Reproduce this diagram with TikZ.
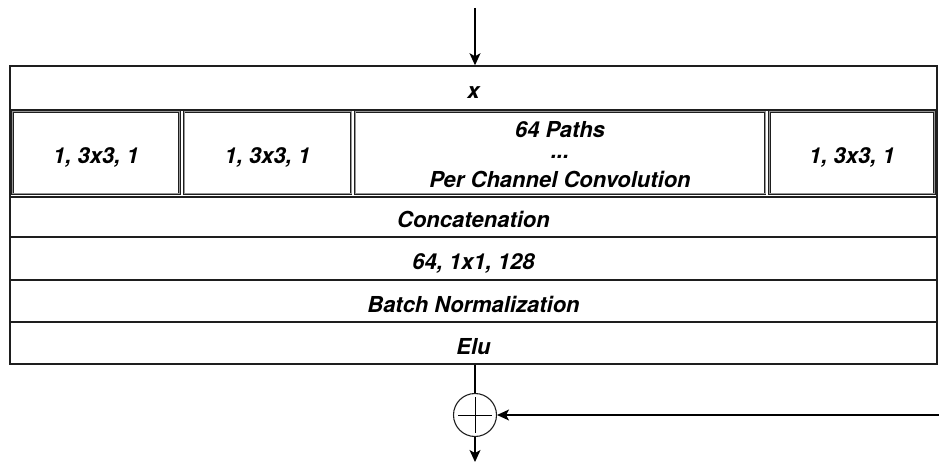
\documentclass[tikz,border=0pt]{standalone}
\usepackage{fontspec}
\setmainfont{TeX Gyre Heros}
\usetikzlibrary{arrows.meta,positioning}
\definecolor{lineColor}{RGB}{30, 30, 30}
\definecolor{gapColor}{RGB}{150, 150, 150}

\tikzset{
    layerrow/.style={draw=lineColor, line width=1.5pt, minimum width=927pt, inner sep=0pt,
        text height=22pt, text depth=0pt,
        font=\fontsize{22}{24}\selectfont\bfseries\itshape},
    pathcell/.style={draw=lineColor, line width=0.7pt, double=gapColor, double distance=1pt,
        minimum height=82pt, inner sep=0pt, text height=22pt, text depth=0pt,
        font=\fontsize{22}{24}\selectfont\bfseries\itshape},
    celltext/.style={inner sep=0pt, align=center,
        font=\fontsize{22}{26}\selectfont\bfseries\itshape},
    flow/.style={line width=1.2pt, -{Stealth[length=12pt, width=11pt, inset=3pt]}}
}

\begin{document}
\begin{tikzpicture}[x=1pt, y=-1pt]
    \useasboundingbox (0,0) rectangle (939,462);

    % Input
    \coordinate (in) at (475,8);

    % Stacked layers
    \node[layerrow, minimum height=44pt] (xrow) at (473.5,88) {x};
    \node[layerrow, minimum height=87pt] (pathrow) at (473.5,153.5) {};
    \node[layerrow, minimum height=40pt] (concat) at (473.5,217) {Concatenation};
    \node[layerrow, minimum height=43pt] (conv) at (473.5,258.5) {64, 1x1, 128};
    \node[layerrow, minimum height=42pt] (bn) at (473.5,301) {Batch Normalization};
    \node[layerrow, minimum height=42pt] (elu) at (473.5,343) {Elu};

    % Grouped paths
    \node[pathcell, minimum width=167pt] (path1) at (96,153) {1, 3x3, 1};
    \node[pathcell, minimum width=167pt] (path2) at (267.5,153) {1, 3x3, 1};
    \node[pathcell, minimum width=410pt] (pathmid) at (560,153) {};
    \node[celltext] (pathtext) at (560,155) {64 Paths\\[-5pt]...\\[3pt]Per Channel Convolution};
    \node[pathcell, minimum width=165pt] (path4) at (852,153) {1, 3x3, 1};

    % Residual sum
    \node[draw=lineColor, circle, line width=1.1pt, minimum size=43pt, inner sep=0pt] (sum) at (475,415) {};
    \draw[line width=1pt] (sum.center) +(-17,0) -- +(17,0);
    \draw[line width=1pt] (sum.center) +(0,-18) -- +(0,18);

    \coordinate (skip) at (939,415);
    \coordinate (out) at (475,462);

    % Connectors
    \draw[flow] (in) -- (in |- xrow.north);
    \draw[line width=1.2pt] (sum.north |- elu.south) -- (sum.north);
    \draw[flow] (skip) -- (sum.east);
    \draw[flow] (sum.south) -- (out);
\end{tikzpicture}
\end{document}
